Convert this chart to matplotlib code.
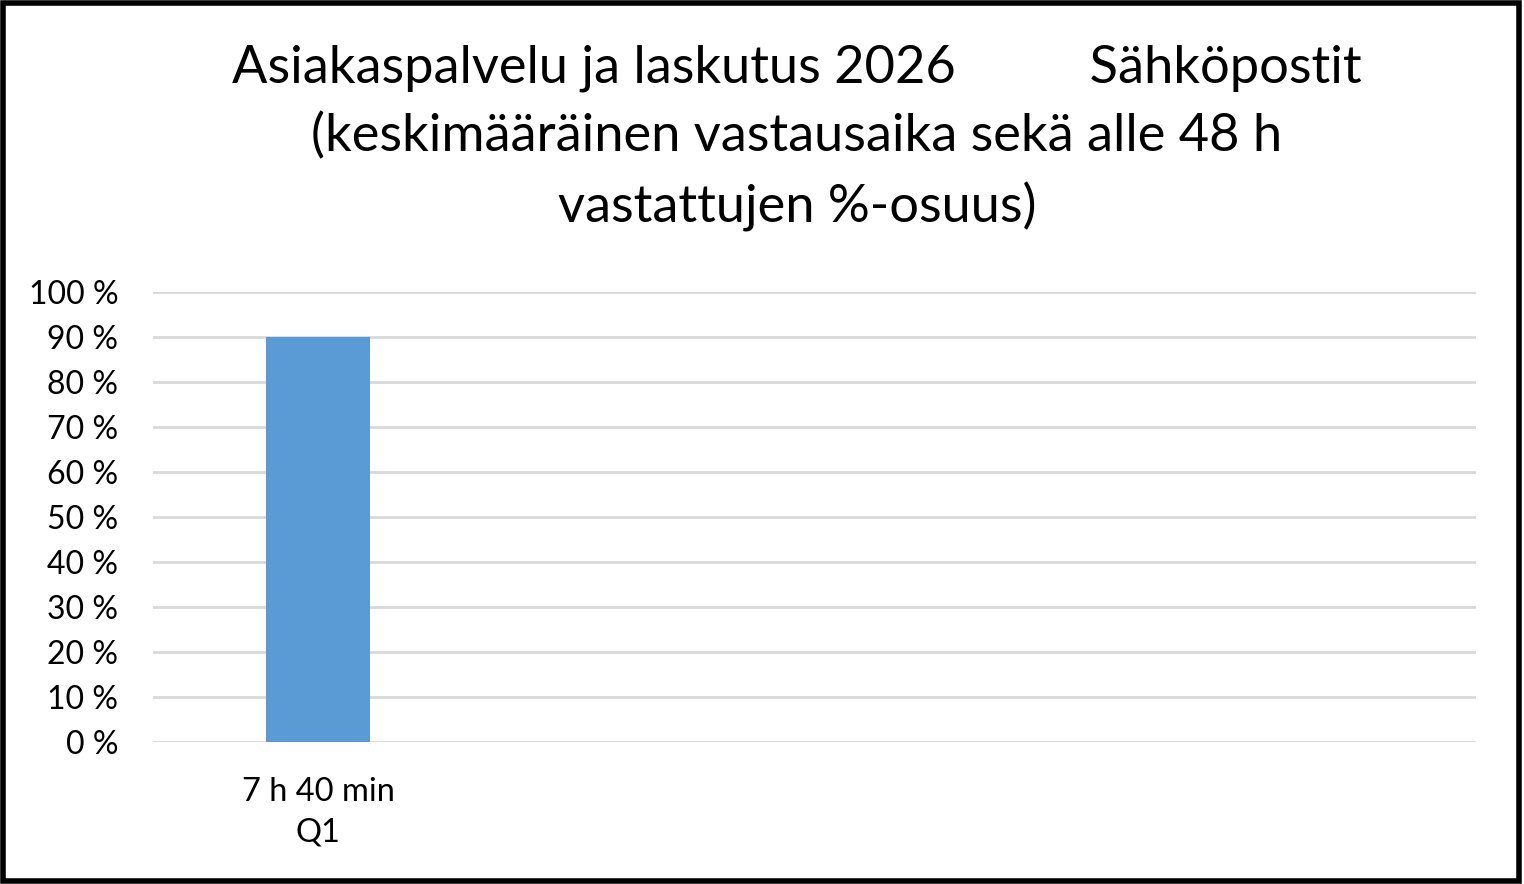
import matplotlib
matplotlib.use("Agg")
import matplotlib.pyplot as plt
from matplotlib.ticker import FixedLocator
import numpy as np

title_lines = ["Asiakaspalvelu ja laskutus 2026          Sähköpostit",
               "(keskimääräinen vastausaika sekä alle 48 h",
               "vastattujen %-osuus)"]
categories = ["7 h 40 min\nQ1", "", "", ""]
values = [0.90, np.nan, np.nan, np.nan]
yticks = [0.0, 0.1, 0.2, 0.3, 0.4, 0.5, 0.6, 0.7, 0.8, 0.9, 1.0]
ytick_labels = ["0 %", "10 %", "20 %", "30 %", "40 %", "50 %", "60 %", "70 %", "80 %", "90 %", "100 %"]

plt.rcParams['font.family'] = ['Lato', 'DejaVu Sans']

W, H = 1524, 884
fig = plt.figure(figsize=(W/100, H/100), dpi=100)
ax = fig.add_axes([153/W, 1-742/H, (1476-153)/W, (742-292)/H])

x = np.arange(len(categories))
ax.bar(x, values, width=0.314, color="#5b9bd5", zorder=3)
ax.set_xlim(-0.5, len(categories)-0.5)
ax.set_ylim(0, 1.0)
ax.yaxis.set_major_locator(FixedLocator(yticks))
ax.set_yticklabels(ytick_labels, fontsize=23)
ax.set_xticks(x)
ax.set_xticklabels(categories, fontsize=23.5, linespacing=1.45)
ax.tick_params(axis='both', length=0, colors='black')
ax.tick_params(axis='y', pad=25)
ax.tick_params(axis='x', pad=25)
ax.grid(axis='y', color='#d9d9d9', linewidth=2, zorder=0)
ax.set_axisbelow(True)
for s in ax.spines.values():
    s.set_visible(False)

fig.text(797/W, 1-138/H, "\n".join(title_lines), ha='center', va='center',
         fontsize=37.7, linespacing=1.52, multialignment='center')

# figure frame
fig.patches.append(plt.Rectangle((0.002, 0.003), 0.995, 0.994, transform=fig.transFigure,
                                 fill=False, edgecolor='black', linewidth=4))

fig.savefig("out.png", dpi=100, facecolor='white')
